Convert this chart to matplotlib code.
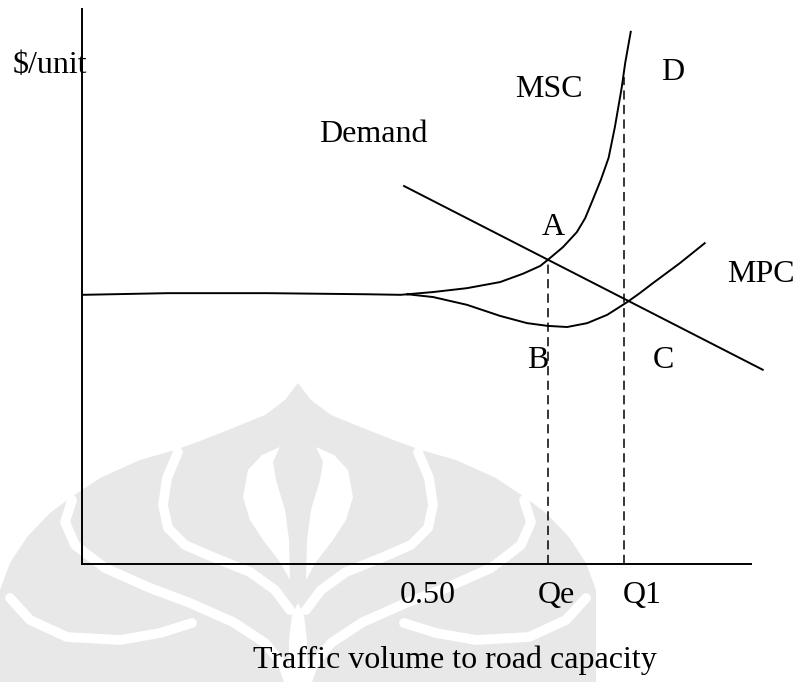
import matplotlib.pyplot as plt
from matplotlib.patches import Polygon
from matplotlib import transforms

plt.rcParams['font.family'] = ['Liberation Serif', 'DejaVu Serif']

# flat part of the cost curve (volume/capacity below 0.5)
flat_x = [0.0, 0.123, 0.267, 0.412, 0.460, 0.470]
flat_y = [4.85, 4.88, 4.88, 4.86, 4.85, 4.86]

# marginal social cost
msc_x = [0.470, 0.507, 0.556, 0.604, 0.637, 0.662, 0.673, 0.695, 0.715, 0.727,
         0.738, 0.750, 0.761, 0.770, 0.780, 0.785, 0.793]
msc_y = [4.86, 4.90, 4.97, 5.08, 5.23, 5.37, 5.48, 5.71, 5.98, 6.23,
         6.56, 6.93, 7.32, 7.87, 8.59, 9.03, 9.59]

# marginal private cost
mpc_x = [0.470, 0.507, 0.556, 0.604, 0.643, 0.673, 0.701, 0.730, 0.759, 0.788,
         0.806, 0.825, 0.864, 0.900]
mpc_y = [4.86, 4.81, 4.67, 4.47, 4.34, 4.29, 4.27, 4.34, 4.49, 4.72,
         4.88, 5.06, 5.42, 5.78]

# demand line
dem_x = [0.465, 0.984]
dem_y = [6.81, 3.50]

# equilibrium quantities
qe = 0.673
q1 = 0.783
qe_top = 5.48
q1_top = 8.77

fig = plt.figure(figsize=(7.98, 6.82), dpi=100)

# faint logo watermark from the scanned page (pixel coords, mirrored about x=298)
px = transforms.Affine2D().scale(1/798, -1/682).translate(0, 1) + fig.transFigure
def mirror(pts):
    return [(596 - x, y) for x, y in pts]

wm = '#e8e8e8'
outline = [(298, 383), (285, 400), (265, 415), (233, 428), (200, 441), (175, 450),
           (140, 460), (100, 478), (70, 498), (50, 513), (27, 537), (10, 563),
           (0, 590), (0, 682)]
fig.patches.append(Polygon(outline + mirror(outline)[::-1], closed=True,
                           facecolor=wm, edgecolor='none', transform=px, zorder=0))
gaps = [
    [(178, 452), (167, 478), (163, 505), (168, 528), (185, 545), (215, 558),
     (250, 572), (275, 590), (290, 610)],
    [(72, 500), (65, 522), (75, 545), (105, 568), (150, 588), (190, 603),
     (233, 622), (265, 643), (283, 665), (292, 690)],
    [(10, 598), (30, 620), (67, 637), (120, 640), (160, 633), (192, 623)],
]
for g in gaps:
    for pts in (g, mirror(g)):
        xs, ys = zip(*pts)
        fig.add_artist(plt.Line2D(xs, ys, color='white', lw=7, transform=px,
                                  solid_capstyle='round', zorder=0.5))
petal = [(280, 447), (262, 455), (248, 470), (243, 497), (250, 520), (263, 540),
         (280, 562), (290, 580), (289, 540), (285, 510), (276, 480), (273, 462)]
stem = [(298, 603), (292, 615), (289, 640), (288, 690), (308, 690), (307, 640), (304, 615)]
for pts in (petal, mirror(petal), stem):
    fig.patches.append(Polygon(pts, closed=True, facecolor='white',
                               edgecolor='none', transform=px, zorder=0.6))

ax = fig.add_axes([82/798, (682-564)/682, 669/798, 555/682])
ax.set_zorder(2)
ax.set_xlim(-0.001, 0.967)
ax.set_ylim(0, 10)
for s in ['top', 'right']:
    ax.spines[s].set_visible(False)
ax.spines['left'].set_linewidth(1.4)
ax.spines['bottom'].set_linewidth(1.4)
ax.set_xticks([])
ax.set_yticks([])
ax.patch.set_alpha(0)

lw = 1.4
for xs, ys in [(flat_x, flat_y), (msc_x, msc_y), (mpc_x, mpc_y), (dem_x, dem_y)]:
    ax.plot(xs, ys, color='black', lw=lw, clip_on=False, solid_joinstyle='round')
ax.plot([qe, qe], [0, qe_top], color='black', lw=1.1, dashes=(6, 3.5))
ax.plot([q1, q1], [0, q1_top], color='black', lw=1.1, dashes=(6, 3.5))

fs = 23
labels = [
    ('$/unit', -0.048, 8.85),
    ('Demand', 0.421, 7.60),
    ('MSC', 0.675, 8.41),
    ('D', 0.854, 8.72),
    ('A', 0.681, 5.93),
    ('MPC', 0.981, 5.08),
    ('B', 0.659, 3.53),
    ('C', 0.840, 3.53),
    ('0.50', 0.500, -0.70),
    ('Qe', 0.685, -0.70),
    ('Q1', 0.809, -0.70),
    ('Traffic volume to road capacity', 0.538, -1.87),
]
for txt, x, y in labels:
    ax.text(x, y, txt, fontsize=fs, ha='center', va='baseline', clip_on=False)

fig.savefig('out.png', dpi=100)
